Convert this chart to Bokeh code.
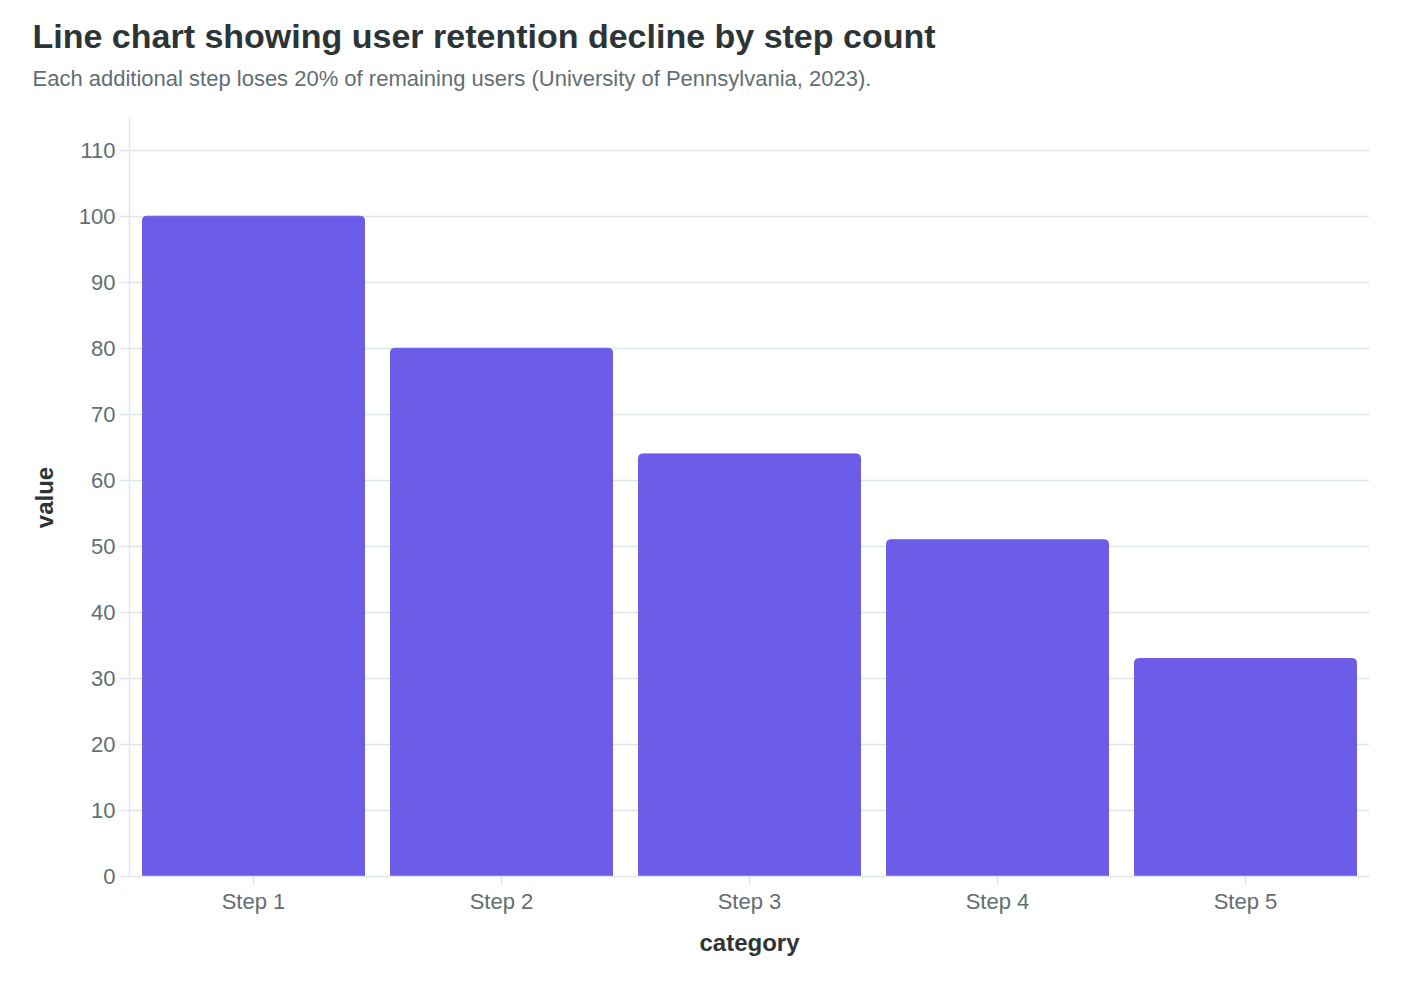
from bokeh.plotting import figure
from bokeh.models import Title, SingleIntervalTicker, Range1d
from bokeh.embed import file_html
from bokeh.resources import INLINE

steps = ['Step 1', 'Step 2', 'Step 3', 'Step 4', 'Step 5']
retention = [100, 80, 64, 51, 33]

FONT = 'Liberation Sans'
INK = '#2d3436'
MUTED = '#636e72'
LINE = '#dfe6e9'
BAR = '#6c5ce7'

p = figure(x_range=steps, y_range=Range1d(0, 114.8),
           width=1410, height=976,
           output_backend='svg', toolbar_location=None,
           min_border_left=129, min_border_right=41,
           min_border_bottom=100, min_border_top=118)

p.vbar(x=steps, top=retention, width=0.895, color=BAR,
       border_radius=(4, 4, 0, 0))

# titles: subtitle first so main title sits above it
sub = Title(text='Each additional step loses 20% of remaining users (University of Pennsylvania, 2023).',
            text_font=FONT, text_font_size='22px', text_color=MUTED,
            text_font_style='normal', align='left', offset=-97, standoff=56)
p.add_layout(sub, 'above')
main = Title(text='Line chart showing user retention decline by step count',
             text_font=FONT, text_font_size='34px', text_color=INK,
             text_font_style='bold', align='left', offset=-97, standoff=-38)
p.add_layout(main, 'above')

p.outline_line_color = None
p.xgrid.grid_line_color = None
p.ygrid.grid_line_color = LINE
p.ygrid.grid_line_width = 1.5

p.yaxis.ticker = SingleIntervalTicker(interval=10)
p.yaxis.axis_label = 'value'
p.xaxis.axis_label = 'category'

for ax in (p.xaxis[0], p.yaxis[0]):
    ax.axis_line_color = LINE
    ax.axis_line_width = 1.5
    ax.major_tick_line_color = LINE
    ax.major_tick_line_width = 1.5
    ax.major_tick_in = 0
    ax.minor_tick_line_color = None
    ax.major_label_text_font = FONT
    ax.major_label_text_font_size = '22px'
    ax.major_label_text_color = MUTED
    ax.axis_label_text_font = FONT
    ax.axis_label_text_font_size = '24px'
    ax.axis_label_text_font_style = 'bold'
    ax.axis_label_text_color = INK

p.yaxis.major_tick_out = 10
p.yaxis.major_label_standoff = 4
p.yaxis.axis_label_standoff = 18
p.xaxis.major_tick_out = 9
p.xaxis.major_label_standoff = 3
p.xaxis.axis_label_standoff = 12

open('out.html', 'w').write(file_html(p, INLINE))
